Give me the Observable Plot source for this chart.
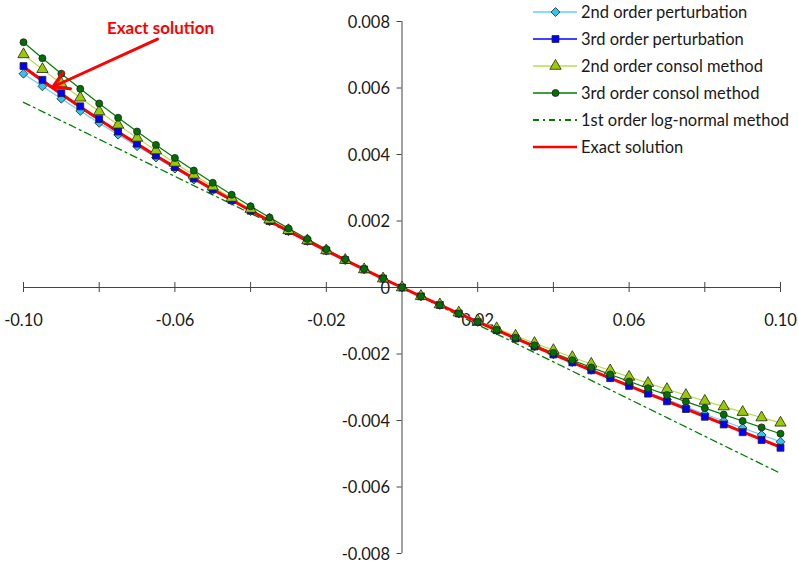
<!DOCTYPE html>
<html><head><meta charset="utf-8">
<script src="https://cdn.jsdelivr.net/npm/d3@7"></script>
<script src="https://cdn.jsdelivr.net/npm/@observablehq/plot@0.6"></script>
<style>
body{margin:0;background:#fff;font-family:Lato,sans-serif;}
#wrap{position:relative;width:798px;height:565px;}
#legend{position:absolute;left:533px;top:0;}
.row{position:absolute;left:0;height:20px;display:flex;align-items:center;white-space:nowrap;font-size:16.5px;color:#1a1a1a;}
.row svg{margin-right:4px;}
</style></head><body><div id="wrap"><div id="legend"></div></div>
<script>
const xValues = [-0.100,-0.095,-0.090,-0.085,-0.080,-0.075,-0.070,-0.065,-0.060,-0.055,-0.050,-0.045,-0.040,-0.035,-0.030,-0.025,-0.020,-0.015,-0.010,-0.005,0,
 0.005,0.010,0.015,0.020,0.025,0.030,0.035,0.040,0.045,0.050,0.055,0.060,0.065,0.070,0.075,0.080,0.085,0.090,0.095,0.100];

const pert2 = [0.006430,0.006050,0.005676,0.005309,0.004950,0.004596,0.004250,0.003909,0.003575,0.003247,0.002925,0.002608,0.002297,0.001992,0.001693,0.001398,0.001109,0.000824,0.000545,0.000270,0,
 -0.000266,-0.000527,-0.000784,-0.001037,-0.001286,-0.001531,-0.001773,-0.002011,-0.002246,-0.002477,-0.002705,-0.002931,-0.003153,-0.003372,-0.003589,-0.003804,-0.004016,-0.004226,-0.004434,-0.004640];

const pert3 = [0.006660,0.006246,0.005843,0.005449,0.005066,0.004691,0.004326,0.003970,0.003622,0.003282,0.002950,0.002626,0.002309,0.001999,0.001696,0.001399,0.001108,0.000823,0.000544,0.000269,0,
 -0.000265,-0.000525,-0.000782,-0.001034,-0.001284,-0.001530,-0.001773,-0.002014,-0.002253,-0.002490,-0.002725,-0.002959,-0.003192,-0.003424,-0.003656,-0.003888,-0.004120,-0.004352,-0.004586,-0.004820];

const consol2 = [0.007010,0.006564,0.006130,0.005706,0.005294,0.004892,0.004500,0.004119,0.003748,0.003386,0.003034,0.002692,0.002359,0.002035,0.001719,0.001412,0.001114,0.000824,0.000542,0.000267,0,
 -0.000260,-0.000512,-0.000758,-0.000996,-0.001229,-0.001455,-0.001674,-0.001888,-0.002097,-0.002299,-0.002497,-0.002689,-0.002877,-0.003060,-0.003238,-0.003412,-0.003582,-0.003748,-0.003911,-0.004070];

const consol3 = [0.007377,0.006896,0.006429,0.005975,0.005535,0.005107,0.004691,0.004288,0.003897,0.003517,0.003148,0.002790,0.002443,0.002106,0.001778,0.001460,0.001151,0.000851,0.000559,0.000276,0,
 -0.000268,-0.000530,-0.000784,-0.001032,-0.001274,-0.001510,-0.001741,-0.001966,-0.002187,-0.002403,-0.002616,-0.002824,-0.003029,-0.003231,-0.003431,-0.003627,-0.003822,-0.004015,-0.004207,-0.004397];

const logNormal1 = [0.005570,0.005292,0.005013,0.004735,0.004456,0.004178,0.003899,0.003621,0.003342,0.003064,0.002785,0.002507,0.002228,0.001950,0.001671,0.001393,0.001114,0.000836,0.000557,0.000279,0,
 -0.000280,-0.000559,-0.000839,-0.001118,-0.001398,-0.001677,-0.001957,-0.002236,-0.002516,-0.002795,-0.003075,-0.003354,-0.003634,-0.003913,-0.004193,-0.004472,-0.004752,-0.005031,-0.005311,-0.005590];

const exact = [0.006630,0.006220,0.005820,0.005430,0.005050,0.004680,0.004320,0.003960,0.003620,0.003280,0.002950,0.002630,0.002310,0.002000,0.001697,0.001399,0.001108,0.000823,0.000544,0.000269,0,
 -0.000265,-0.000525,-0.000782,-0.001034,-0.001284,-0.001530,-0.001773,-0.002014,-0.002253,-0.002490,-0.002725,-0.002959,-0.003190,-0.003420,-0.003650,-0.003880,-0.004110,-0.004340,-0.004570,-0.004800];

const seriesNames = ["2nd order perturbation","3rd order perturbation","2nd order consol method","3rd order consol method","1st order log-normal method","Exact solution"];

const xTicks = [-0.10,-0.08,-0.06,-0.04,-0.02,0,0.02,0.04,0.06,0.08,0.10];
const xTickLabels = [-0.10,-0.06,-0.02,0.02,0.06,0.10];
const yTicks = [0.008,0.006,0.004,0.002,0,-0.002,-0.004,-0.006,-0.008];

const annotText = ["Exact solution"];
const annotTextPos = [{x:-0.0638, y:0.0078}];
const annotArrow = [{x1:-0.0646, y1:0.00747, x2:-0.0923, y2:0.00603}];

const styles = [
  {line:"#66CCFF", fill:"#33C3F0", symbol:"diamond2", r:4.0, width:1.2, dash:null, marker:true},
  {line:"#0000FF", fill:"#0000FF", symbol:"square", r:3.9, width:1.2, dash:null, marker:true},
  {line:"#B8DC4C", fill:"#99CC00", symbol:"triangle", r:4.2, width:1.2, dash:null, marker:true},
  {line:"#008000", fill:"#007000", symbol:"circle", r:3.5, width:1.2, dash:null, marker:true},
  {line:"#008000", fill:null, symbol:null, r:0, width:1.3, dash:"7,4,2,4", marker:false},
  {line:"#FF0000", fill:null, symbol:null, r:0, width:3, dash:null, marker:false}
];
const allY = [pert2, pert3, consol2, consol3, logNormal1, exact];
const tables = allY.map(ys => xValues.map((x,i)=>({x, y: ys[i]})));

const ax = "#444";
const lineMarks = tables.map((t,i)=>Plot.line(t,{x:"x",y:"y",stroke:styles[i].line,strokeWidth:styles[i].width,strokeDasharray:styles[i].dash||undefined}));
const dotMarks = tables.map((t,i)=> styles[i].marker ? Plot.dot(t,{x:"x",y:"y",symbol:()=>styles[i].symbol,r:styles[i].r,fill:styles[i].fill,stroke:"#222",strokeWidth:0.8}) : null).filter(Boolean);

const chart = Plot.plot({
  width:798, height:565,
  marginLeft:23, marginRight:18, marginTop:21, marginBottom:12,
  style:{fontFamily:"Lato, sans-serif", background:"#fff"},
  x:{domain:[-0.1,0.1], axis:null},
  y:{domain:[-0.008,0.008], axis:null},
  symbol:{type:"identity"},
  marks:[
    Plot.ruleY([0],{x1:-0.1,x2:0.1,stroke:ax,strokeWidth:1}),
    Plot.ruleX([0],{y1:-0.008,y2:0.008,stroke:ax,strokeWidth:1}),
    Plot.ruleX(xTicks,{x:d=>d,y1:-0.00015,y2:0.00015,stroke:ax,strokeWidth:1}),
    Plot.ruleY(yTicks,{y:d=>d,x1:-0.00132,x2:0,stroke:ax,strokeWidth:1}),
    Plot.text(yTicks,{x:0,y:d=>d,text:d=>d===0?"0":d.toFixed(3),textAnchor:"end",dx:-12,dy:1,fontSize:16.5,fill:"#1a1a1a"}),
    Plot.text(xTickLabels,{x:d=>d,y:0,text:d=>d.toFixed(2),dy:33,fontSize:16.5,fill:"#1a1a1a"}),
    ...lineMarks,
    ...dotMarks,
    Plot.arrow(annotArrow,{x1:"x1",y1:"y1",x2:"x2",y2:"y2",stroke:"#FF0000",strokeWidth:3,headLength:9}),
    Plot.text(annotText,{x:(d,i)=>annotTextPos[i].x,y:(d,i)=>annotTextPos[i].y,text:d=>d,fill:"#FF0000",fontWeight:"bold",fontSize:17})
  ]
});
document.getElementById("wrap").prepend(chart);

// legend
const legend = document.getElementById("legend");
const rowCenters = [11.7, 39, 66.3, 93.3, 120, 146.7];
const symMap = {circle:d3.symbolCircle, square:d3.symbolSquare, triangle:d3.symbolTriangle, diamond2:d3.symbolDiamond2};
seriesNames.forEach((name,i)=>{
  const s = styles[i];
  const row = document.createElement("div");
  row.className = "row";
  row.style.top = (rowCenters[i]-10)+"px";
  let marker = "";
  if (s.marker) {
    const p = d3.symbol(symMap[s.symbol], s.r*s.r*Math.PI)();
    marker = `<path d="${p}" transform="translate(22.5,7)" fill="${s.fill}" stroke="#222" stroke-width="0.8"/>`;
  }
  row.innerHTML = `<svg width="44" height="14"><line x1="0" x2="44" y1="7" y2="7" stroke="${s.line}" stroke-width="${i===5?2.5:(i===4?2:1.5)}" ${s.dash?`stroke-dasharray="6,4,2,4"`:""}/>${marker}</svg><span>${name}</span>`;
  legend.appendChild(row);
});
</script></body></html>
